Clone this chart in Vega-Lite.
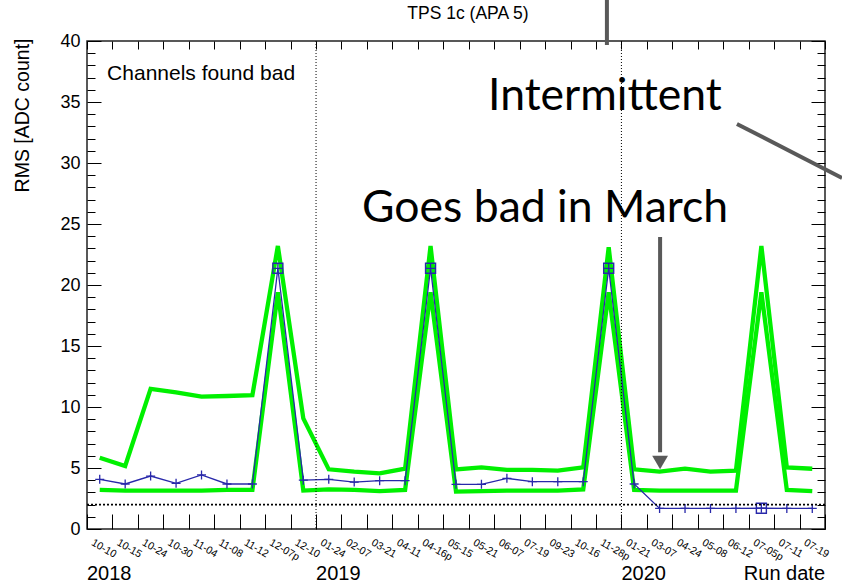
{
  "$schema": "https://vega.github.io/schema/vega-lite/v6.json",
  "width": 738,
  "height": 488,
  "autosize": "none",
  "padding": {"left": 87, "top": 41, "right": 17, "bottom": 55},
  "background": "white",
  "config": {
    "view": {"stroke": "#222222", "strokeWidth": 1.5},
    "font": "Liberation Sans",
    "axis": {"grid": false, "domain": false, "tickColor": "black", "labelColor": "black", "titleColor": "black"}
  },
  "resolve": {"axis": {"x": "independent", "y": "independent"}},
  "datasets": {
    "runs": [
      {"i": 0, "date": "10-10", "upper": 5.84, "lower": 3.2, "rms": 4.07},
      {"i": 1, "date": "10-15", "upper": 5.16, "lower": 3.14, "rms": 3.69},
      {"i": 2, "date": "10-24", "upper": 11.48, "lower": 3.14, "rms": 4.34},
      {"i": 3, "date": "10-30", "upper": 11.2, "lower": 3.14, "rms": 3.74},
      {"i": 4, "date": "11-04", "upper": 10.85, "lower": 3.14, "rms": 4.43},
      {"i": 5, "date": "11-08", "upper": 10.9, "lower": 3.2, "rms": 3.69},
      {"i": 6, "date": "11-12", "upper": 10.98, "lower": 3.2, "rms": 3.69},
      {"i": 7, "date": "12-07p", "upper": 23.2, "lower": 19.4, "rms": 21.37},
      {"i": 8, "date": "12-10", "upper": 9.07, "lower": 3.15, "rms": 4.0},
      {"i": 9, "date": "01-24", "upper": 4.89, "lower": 3.25, "rms": 4.07},
      {"i": 10, "date": "02-07", "upper": 4.7, "lower": 3.2, "rms": 3.85},
      {"i": 11, "date": "03-21", "upper": 4.56, "lower": 3.1, "rms": 3.96},
      {"i": 12, "date": "04-11", "upper": 4.94, "lower": 3.2, "rms": 3.96},
      {"i": 13, "date": "04-16p", "upper": 23.2, "lower": 19.4, "rms": 21.37},
      {"i": 14, "date": "05-15", "upper": 4.89, "lower": 3.06, "rms": 3.66},
      {"i": 15, "date": "05-21", "upper": 5.05, "lower": 3.1, "rms": 3.66},
      {"i": 16, "date": "06-07", "upper": 4.84, "lower": 3.15, "rms": 4.15},
      {"i": 17, "date": "07-19", "upper": 4.84, "lower": 3.15, "rms": 3.88},
      {"i": 18, "date": "09-23", "upper": 4.78, "lower": 3.15, "rms": 3.88},
      {"i": 19, "date": "10-16", "upper": 5.05, "lower": 3.25, "rms": 3.88},
      {"i": 20, "date": "11-28p", "upper": 23.1, "lower": 19.4, "rms": 21.37},
      {"i": 21, "date": "01-21", "upper": 4.89, "lower": 3.2, "rms": 3.69},
      {"i": 22, "date": "03-07", "upper": 4.7, "lower": 3.15, "rms": 1.69},
      {"i": 23, "date": "04-24", "upper": 4.94, "lower": 3.15, "rms": 1.69},
      {"i": 24, "date": "05-08", "upper": 4.7, "lower": 3.15, "rms": 1.69},
      {"i": 25, "date": "06-12", "upper": 4.78, "lower": 3.15, "rms": 1.69},
      {"i": 26, "date": "07-05p", "upper": 23.2, "lower": 19.4, "rms": 1.7},
      {"i": 27, "date": "07-11", "upper": 5.05, "lower": 3.2, "rms": 1.69},
      {"i": 28, "date": "07-19", "upper": 4.94, "lower": 3.1, "rms": 1.69}
    ],
    "years": [
      {"x": -0.5, "label": "2018"},
      {"x": 8.5, "label": "2019"},
      {"x": 20.5, "label": "2020"}
    ],
    "yearlines": [{"x": 8.5}, {"x": 20.5}],
    "pointers": [
      {"x": 19.93, "y": 39.67, "x2": 19.93, "y2": 43.36},
      {"x": 25.04, "y": 33.2, "x2": 29.17, "y2": 28.77},
      {"x": 22.02, "y": 23.93, "x2": 22.02, "y2": 6.3}
    ]
  },
  "layer": [
    {
      "data": {"name": "runs"},
      "mark": {"type": "line", "color": "#00f000", "strokeWidth": 4.3},
      "encoding": {
        "x": {"field": "i", "type": "quantitative", "scale": {"domain": [-0.5, 28.5], "nice": false, "zero": false},
          "axis": {"orient": "bottom", "values": [-0.5, 0.5, 1.5, 2.5, 3.5, 4.5, 5.5, 6.5, 7.5, 8.5, 9.5, 10.5, 11.5, 12.5, 13.5, 14.5, 15.5, 16.5, 17.5, 18.5, 19.5, 20.5, 21.5, 22.5, 23.5, 24.5, 25.5, 26.5, 27.5, 28.5], "tickSize": -15, "labels": false, "title": null}},
        "y": {"field": "upper", "type": "quantitative", "scale": {"domain": [0, 40], "nice": false, "zero": false},
          "axis": {"orient": "left", "values": [0, 5, 10, 15, 20, 25, 30, 35, 40], "ticks": false, "labelFontSize": 18, "labelPadding": 7, "labelFont": "Liberation Sans",
            "title": "RMS [ADC count]", "titleFont": "Liberation Sans", "titleFontSize": 19.5, "titleFontWeight": "normal", "titleX": -65, "titleY": -3, "titleAlign": "right", "titleAngle": -90, "titleBaseline": "middle"}}
      }
    },
    {
      "data": {"name": "runs"},
      "mark": {"type": "line", "color": "#00f000", "strokeWidth": 4.3},
      "encoding": {
        "x": {"field": "i", "type": "quantitative", "scale": {"domain": [-0.5, 28.5], "nice": false, "zero": false},
          "axis": {"orient": "top", "values": [-0.5, 0.5, 1.5, 2.5, 3.5, 4.5, 5.5, 6.5, 7.5, 8.5, 9.5, 10.5, 11.5, 12.5, 13.5, 14.5, 15.5, 16.5, 17.5, 18.5, 19.5, 20.5, 21.5, 22.5, 23.5, 24.5, 25.5, 26.5, 27.5, 28.5], "tickSize": -8, "labels": false, "title": null}},
        "y": {"field": "lower", "type": "quantitative", "scale": {"domain": [0, 40], "nice": false, "zero": false},
          "axis": {"orient": "left", "values": [0, 1, 2, 3, 4, 5, 6, 7, 8, 9, 10, 11, 12, 13, 14, 15, 16, 17, 18, 19, 20, 21, 22, 23, 24, 25, 26, 27, 28, 29, 30, 31, 32, 33, 34, 35, 36, 37, 38, 39, 40],
            "tickSize": {"condition": {"test": "datum.value % 5 === 0", "value": -14}, "value": -8}, "labels": false, "title": null}}
      }
    },
    {
      "data": {"name": "runs"},
      "mark": {"type": "line", "color": "#2828aa", "strokeWidth": 1.3},
      "encoding": {
        "x": {"field": "i", "type": "quantitative", "scale": {"domain": [-0.5, 28.5], "nice": false, "zero": false}, "axis": null},
        "y": {"field": "rms", "type": "quantitative", "scale": {"domain": [0, 40], "nice": false, "zero": false},
          "axis": {"orient": "right", "values": [0, 1, 2, 3, 4, 5, 6, 7, 8, 9, 10, 11, 12, 13, 14, 15, 16, 17, 18, 19, 20, 21, 22, 23, 24, 25, 26, 27, 28, 29, 30, 31, 32, 33, 34, 35, 36, 37, 38, 39, 40],
            "tickSize": {"condition": {"test": "datum.value % 5 === 0", "value": -14}, "value": -8}, "labels": false, "title": null}}
      }
    },
    {
      "data": {"name": "runs"},
      "mark": {"type": "point", "shape": "M-1,0H1M0,-1V1", "size": 81, "filled": false, "stroke": "#2828aa", "strokeWidth": 1.3, "opacity": 1},
      "encoding": {
        "x": {"field": "i", "type": "quantitative", "scale": {"domain": [-0.5, 28.5], "nice": false, "zero": false}, "axis": null},
        "y": {"field": "rms", "type": "quantitative", "scale": {"domain": [0, 40], "nice": false, "zero": false}, "axis": null}
      }
    },
    {
      "data": {"name": "runs"},
      "transform": [{"filter": "indexof(datum.date, 'p') >= 0"}],
      "mark": {"type": "point", "shape": "square", "size": 100, "filled": false, "stroke": "#2828aa", "strokeWidth": 1.4, "opacity": 1},
      "encoding": {
        "x": {"field": "i", "type": "quantitative", "scale": {"domain": [-0.5, 28.5], "nice": false, "zero": false}, "axis": null},
        "y": {"field": "rms", "type": "quantitative", "scale": {"domain": [0, 40], "nice": false, "zero": false}, "axis": null}
      }
    },
    {
      "data": {"name": "yearlines"},
      "mark": {"type": "rule", "color": "black", "strokeWidth": 1, "strokeDash": [1, 2]},
      "encoding": {
        "x": {"field": "x", "type": "quantitative", "scale": {"domain": [-0.5, 28.5], "nice": false, "zero": false}, "axis": null}
      }
    },
    {
      "data": {"values": [{"level": 2}]},
      "mark": {"type": "rule", "color": "black", "strokeWidth": 1.6, "strokeDash": [2, 2]},
      "encoding": {
        "y": {"field": "level", "type": "quantitative", "scale": {"domain": [0, 40], "nice": false, "zero": false}, "axis": null}
      }
    },
    {
      "data": {"name": "runs"},
      "mark": {"type": "text", "align": "left", "baseline": "middle", "angle": 30, "dy": 15, "fontSize": 10.5, "font": "Liberation Sans", "color": "black"},
      "encoding": {
        "x": {"field": "i", "type": "quantitative", "scale": {"domain": [-0.5, 28.5], "nice": false, "zero": false}, "axis": null},
        "y": {"datum": 0, "type": "quantitative", "scale": {"domain": [0, 40], "nice": false, "zero": false}, "axis": null},
        "text": {"field": "date"}
      }
    },
    {
      "data": {"name": "years"},
      "mark": {"type": "text", "align": "left", "baseline": "alphabetic", "dy": 51, "fontSize": 20, "font": "Liberation Sans", "color": "black"},
      "encoding": {
        "x": {"field": "x", "type": "quantitative", "scale": {"domain": [-0.5, 28.5], "nice": false, "zero": false}, "axis": null},
        "y": {"datum": 0, "type": "quantitative", "scale": {"domain": [0, 40], "nice": false, "zero": false}, "axis": null},
        "text": {"field": "label"}
      }
    },
    {
      "data": {"values": [{"x": 28.5, "label": "Run date"}]},
      "mark": {"type": "text", "align": "right", "baseline": "alphabetic", "dy": 51, "fontSize": 20, "font": "Liberation Sans", "color": "black"},
      "encoding": {
        "x": {"field": "x", "type": "quantitative", "scale": {"domain": [-0.5, 28.5], "nice": false, "zero": false}, "axis": null},
        "y": {"datum": 0, "type": "quantitative", "scale": {"domain": [0, 40], "nice": false, "zero": false}, "axis": null},
        "text": {"field": "label"}
      }
    },
    {
      "data": {"values": [{"x": 14.47, "y": 40, "label": "TPS 1c (APA 5)"}]},
      "mark": {"type": "text", "align": "center", "baseline": "alphabetic", "dy": -22, "fontSize": 17.5, "font": "Liberation Sans", "color": "black"},
      "encoding": {
        "x": {"field": "x", "type": "quantitative", "scale": {"domain": [-0.5, 28.5], "nice": false, "zero": false}, "axis": null},
        "y": {"field": "y", "type": "quantitative", "scale": {"domain": [0, 40], "nice": false, "zero": false}, "axis": null},
        "text": {"field": "label"}
      }
    },
    {
      "data": {"values": [{"x": 0.29, "y": 36.8, "label": "Channels found bad"}]},
      "mark": {"type": "text", "align": "left", "baseline": "alphabetic", "fontSize": 21, "font": "Liberation Sans", "color": "black"},
      "encoding": {
        "x": {"field": "x", "type": "quantitative", "scale": {"domain": [-0.5, 28.5], "nice": false, "zero": false}, "axis": null},
        "y": {"field": "y", "type": "quantitative", "scale": {"domain": [0, 40], "nice": false, "zero": false}, "axis": null},
        "text": {"field": "label"}
      }
    },
    {
      "data": {"values": [{"x": 15.26, "y": 34.34, "label": "Intermittent"}, {"x": 10.31, "y": 25.16, "label": "Goes bad in March"}]},
      "mark": {"type": "text", "align": "left", "baseline": "alphabetic", "fontSize": 44.5, "font": "Lato", "color": "black"},
      "encoding": {
        "x": {"field": "x", "type": "quantitative", "scale": {"domain": [-0.5, 28.5], "nice": false, "zero": false}, "axis": null},
        "y": {"field": "y", "type": "quantitative", "scale": {"domain": [0, 40], "nice": false, "zero": false}, "axis": null},
        "text": {"field": "label"}
      }
    },
    {
      "data": {"name": "pointers"},
      "mark": {"type": "rule", "color": "#595959", "strokeWidth": 4},
      "encoding": {
        "x": {"field": "x", "type": "quantitative", "scale": {"domain": [-0.5, 28.5], "nice": false, "zero": false}, "axis": null},
        "y": {"field": "y", "type": "quantitative", "scale": {"domain": [0, 40], "nice": false, "zero": false}, "axis": null},
        "x2": {"field": "x2"},
        "y2": {"field": "y2"}
      }
    },
    {
      "data": {"values": [{"x": 22.02, "y": 5.45}]},
      "mark": {"type": "point", "shape": "triangle-down", "size": 250, "filled": true, "color": "#595959", "opacity": 1},
      "encoding": {
        "x": {"field": "x", "type": "quantitative", "scale": {"domain": [-0.5, 28.5], "nice": false, "zero": false}, "axis": null},
        "y": {"field": "y", "type": "quantitative", "scale": {"domain": [0, 40], "nice": false, "zero": false}, "axis": null}
      }
    }
  ]
}
